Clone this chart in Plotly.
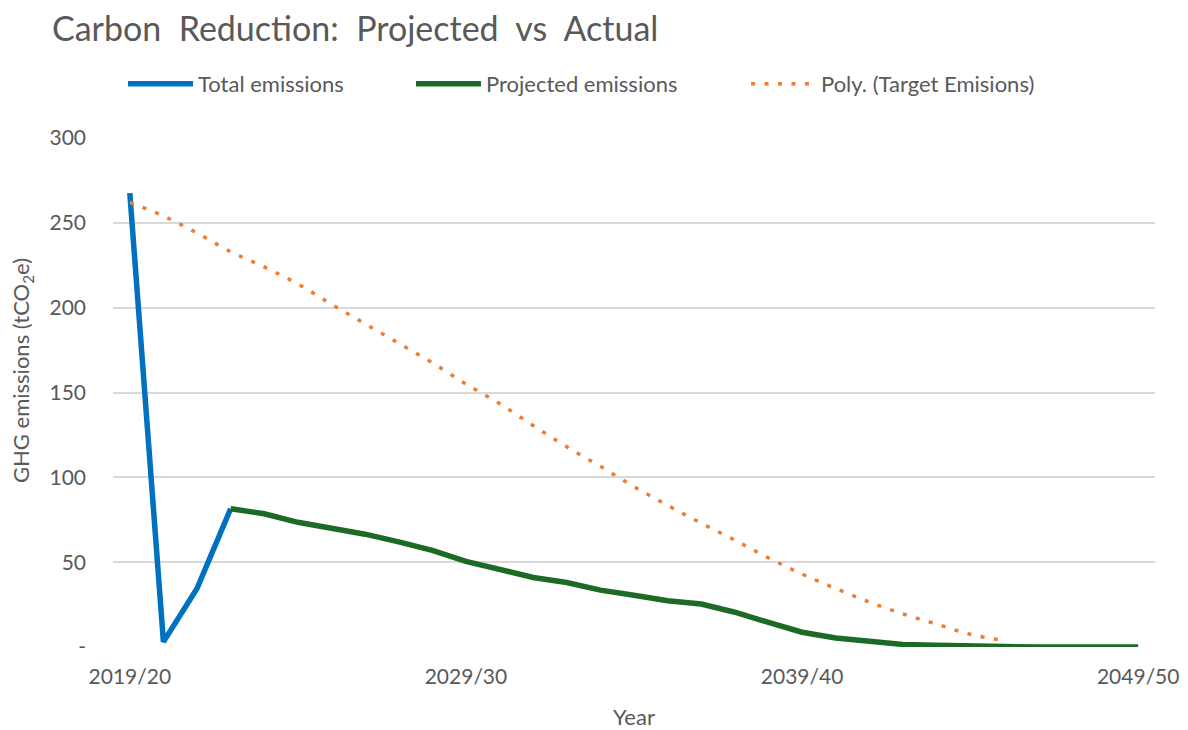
import plotly.graph_objects as go

years = ["2019/20", "2020/21", "2021/22", "2022/23", "2023/24", "2024/25", "2025/26",
         "2026/27", "2027/28", "2028/29", "2029/30", "2030/31", "2031/32", "2032/33",
         "2033/34", "2034/35", "2035/36", "2036/37", "2037/38", "2038/39", "2039/40",
         "2040/41", "2041/42", "2042/43", "2043/44", "2044/45", "2045/46", "2046/47",
         "2047/48", "2048/49", "2049/50"]

total_years = ["2019/20", "2020/21", "2021/22", "2022/23"]
total_emissions = [267.5, 3, 34.5, 81.5]

projected_years = years[3:]
projected_emissions = [81.5, 78.5, 73.5, 70, 66.5, 62, 57, 50.5, 46, 41, 38, 33.5, 30.5,
                       27.3, 25.3, 20.5, 14.5, 8.7, 5.3, 3, 1.5, 1, 1, 0.3, 0, 0, 0, 0]

target_years = years[:27]
target_emissions = [262, 254, 244, 233, 224, 214, 202, 190.5, 179, 167.5, 155, 143.5, 130.5,
                    118, 106.5, 94.5, 83.5, 73, 63, 52.5, 43, 34.5, 26.5, 19.5, 13.5, 7.5, 3.8]

y_tickvals = [0, 50, 100, 150, 200, 250, 300]
y_ticktext = ["-", "50", "100", "150", "200", "250", "300"]
x_tickvals = ["2019/20", "2029/30", "2039/40", "2049/50"]

FONT = "Lato"
GREY = "#595959"
W, H = 1180, 722

fig = go.Figure()
fig.add_trace(go.Scatter(x=total_years, y=total_emissions, mode="lines", name="Total emissions",
                         line=dict(color="#0070C0", width=5.5), legend="legend"))
fig.add_trace(go.Scatter(x=projected_years, y=projected_emissions, mode="lines",
                         name="Projected emissions", line=dict(color="#1B6B24", width=5.5),
                         legend="legend2"))
fig.add_trace(go.Scatter(x=target_years, y=target_emissions, mode="lines",
                         name="Poly. (Target Emisions)", line_shape="spline",
                         line=dict(color="#ED7D31", width=3.5, dash="4px,9.5px"),
                         legend="legend3"))


def leg(left_px):
    return dict(orientation="h", xref="container", yref="container",
                x=left_px / W, xanchor="left", y=1 - 76 / H, yanchor="middle",
                font=dict(size=22, color=GREY, family=FONT), itemwidth=65,
                bgcolor="rgba(0,0,0,0)")


fig.update_layout(
    width=W, height=H,
    paper_bgcolor="white", plot_bgcolor="white",
    margin=dict(l=105, r=33, t=130, b=83, autoexpand=False),
    font=dict(family=FONT, color=GREY, size=20),
    title=dict(text="Carbon  Reduction:  Projected  vs  Actual", x=44 / W, xanchor="left",
               y=1 - 21.5 / H, yanchor="middle", font=dict(size=34, color=GREY, family=FONT)),
    showlegend=True,
    legend=leg(115),
    legend2=leg(403),
    legend3=leg(738),
    xaxis=dict(type="category", categoryorder="array", categoryarray=years,
               range=[-0.5, 30.5], tickvals=x_tickvals, ticktext=x_tickvals,
               showgrid=False, showline=False, zeroline=False, ticks="", automargin=False,
               tickfont=dict(size=21, color=GREY), ticklabelstandoff=15,
               title=dict(text="Year", font=dict(size=22, color=GREY), standoff=24)),
    yaxis=dict(range=[0, 300], tickvals=y_tickvals, ticktext=y_ticktext,
               showgrid=True, gridcolor="#D9D9D9", gridwidth=1.5, zeroline=False,
               showline=False, ticks="", tickfont=dict(size=21, color=GREY),
               ticklabelstandoff=26, automargin=False),
    annotations=[dict(text="GHG emissions (tCO<sub>2</sub>e)", textangle=-90,
                      xref="paper", yref="paper", x=(14 - 105) / 1042, y=(639 - 363) / 509,
                      xanchor="center", yanchor="middle", showarrow=False,
                      font=dict(size=22, color=GREY, family=FONT))],
)

fig.write_html("out.html")
